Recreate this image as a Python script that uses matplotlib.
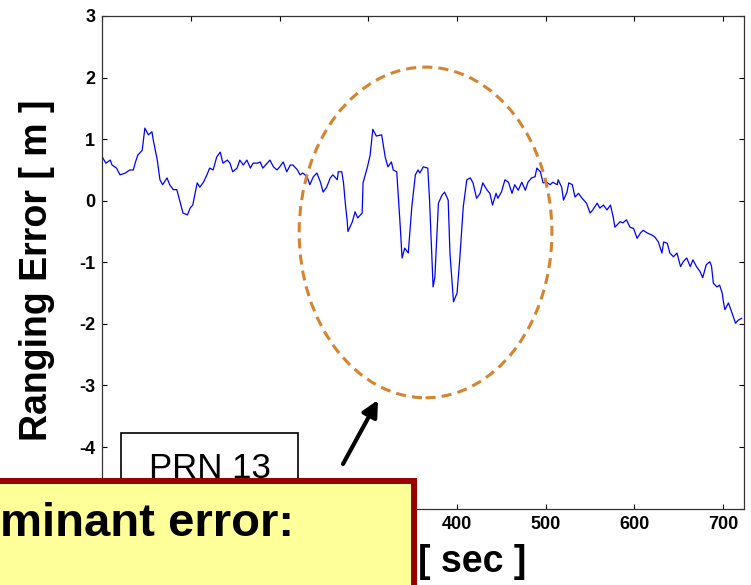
import matplotlib
matplotlib.use('Agg')
import matplotlib.pyplot as plt
from matplotlib import rcParams
from matplotlib.patches import Ellipse, Rectangle

rcParams['font.family'] = 'sans-serif'
rcParams['font.sans-serif'] = ['Liberation Sans']
rcParams['axes.unicode_minus'] = False

# ranging error trace
t_sec = [0, 4, 9, 11, 16, 20, 26, 31, 35, 37,
         40, 45, 48, 52, 56, 57, 62, 65, 68, 73,
         76, 80, 84, 88, 91, 96, 99, 102, 107, 110,
         114, 118, 121, 125, 129, 133, 136, 141, 144, 147,
         152, 155, 159, 163, 167, 170, 175, 178, 181, 186,
         189, 193, 197, 200, 204, 208, 212, 215, 220, 223,
         226, 231, 234, 238, 242, 246, 249, 253, 257, 260,
         265, 266, 270, 272, 274, 276, 277, 282, 285, 288,
         293, 294, 299, 302, 305, 309, 315, 319, 322, 326,
         328, 332, 336, 338, 341, 345, 349, 353, 356, 358,
         362, 367, 369, 373, 375, 379, 383, 386, 390, 392,
         396, 400, 403, 407, 411, 415, 418, 422, 426, 429,
         434, 437, 440, 444, 446, 450, 454, 458, 462, 465,
         469, 473, 477, 480, 484, 488, 490, 494, 497, 501,
         505, 508, 513, 514, 518, 520, 524, 526, 530, 533,
         537, 541, 546, 550, 553, 558, 561, 565, 569, 573,
         576, 578, 584, 587, 591, 595, 599, 603, 607, 610,
         614, 620, 623, 627, 631, 633, 637, 640, 644, 648,
         652, 655, 659, 663, 666, 670, 674, 677, 681, 685,
         687, 689, 693, 696, 699, 700, 702, 706, 710, 714,
         717, 721]
err_m = [0.71, 0.61, 0.66, 0.58, 0.53, 0.42, 0.45, 0.50, 0.50, 0.61,
         0.74, 0.82, 1.18, 1.07, 1.12, 1.02, 0.66, 0.34, 0.26, 0.37,
         0.26, 0.18, 0.18, -0.04, -0.20, -0.23, -0.12, -0.07, 0.29, 0.22,
         0.30, 0.42, 0.53, 0.50, 0.71, 0.79, 0.61, 0.66, 0.61, 0.47,
         0.53, 0.66, 0.58, 0.66, 0.53, 0.61, 0.61, 0.63, 0.53, 0.61,
         0.66, 0.55, 0.50, 0.55, 0.63, 0.47, 0.58, 0.58, 0.50, 0.42,
         0.45, 0.39, 0.26, 0.39, 0.45, 0.30, 0.14, 0.22, 0.37, 0.42,
         0.34, 0.47, 0.47, 0.29, -0.04, -0.31, -0.50, -0.34, -0.18, -0.28,
         -0.20, 0.29, 0.55, 0.74, 1.16, 1.05, 1.07, 0.71, 0.55, 0.63,
         0.50, 0.47, -0.43, -0.93, -0.77, -0.85, -0.10, 0.42, 0.50, 0.45,
         0.55, 0.53, 0.01, -1.40, -1.24, -0.04, 0.09, 0.14, 0.01, -0.85,
         -1.64, -1.50, -0.96, -0.10, 0.34, 0.37, 0.29, 0.04, 0.12, 0.29,
         0.17, 0.12, -0.07, 0.12, 0.04, 0.14, 0.34, 0.30, 0.12, 0.26,
         0.17, 0.30, 0.17, 0.30, 0.37, 0.39, 0.53, 0.47, 0.29, 0.30,
         0.26, 0.30, 0.26, 0.34, 0.22, 0.01, 0.14, 0.29, 0.26, 0.06,
         0.12, 0.04, -0.04, -0.20, -0.15, -0.04, -0.12, -0.07, -0.15, -0.07,
         -0.26, -0.43, -0.34, -0.36, -0.31, -0.43, -0.45, -0.61, -0.52, -0.48,
         -0.52, -0.56, -0.59, -0.67, -0.85, -0.67, -0.69, -0.85, -0.91, -0.85,
         -1.07, -0.99, -0.93, -1.07, -0.96, -1.07, -1.15, -1.25, -1.04, -0.99,
         -1.07, -1.34, -1.40, -1.37, -1.50, -1.61, -1.77, -1.66, -1.82, -1.99,
         -1.94, -1.91]

# ticks; labels under the yellow callout are not visible in the reference
x_ticks = [0, 100, 200, 300, 400, 500, 600, 700]
x_labels = ['', '', '', '', '400', '500', '600', '700']
y_ticks = [-5, -4, -3, -2, -1, 0, 1, 2, 3]
y_labels = ['', '-4', '-3', '-2', '-1', '0', '1', '2', '3']

W, H = 751, 585
fig = plt.figure(figsize=(W / 100, H / 100), dpi=100)
ax = fig.add_axes([102.3 / W, 1 - 508.6 / H, (743.5 - 102.3) / W, (508.6 - 16) / H])

ax.plot(t_sec, err_m, color='#0000FF', linewidth=0.9)
ax.set_xlim(0, 723)
ax.set_ylim(-5, 3)
ax.set_xticks(x_ticks)
ax.set_xticklabels(x_labels)
ax.set_yticks(y_ticks)
ax.set_yticklabels(y_labels)
ax.tick_params(direction='in', top=True, right=True, length=3.6, width=0.8,
               labelsize=13, pad=5)
for lab in ax.get_xticklabels() + ax.get_yticklabels():
    lab.set_fontweight('bold')
for s in ax.spines.values():
    s.set_linewidth(0.9)
    s.set_color('#333333')

ax.set_ylabel('Ranging Error [ m ]', fontsize=27, fontweight='bold')
ax.yaxis.set_label_coords(-0.074, 0.484)
ax.set_xlabel('[ sec ]', fontsize=27, fontweight='bold', ha='left')
ax.xaxis.set_label_coords((418 - 102.3) / 641.2, -0.072)

# dashed highlight around the disturbed part
ell = Ellipse((364.5, -0.515), 285, 5.37, fill=False, edgecolor='#D4832F',
              linewidth=2.2, linestyle=(0, (3.3, 2.0)), clip_on=False, zorder=4)
ax.add_patch(ell)

ax.annotate('', xy=(378, H - 400), xytext=(343, H - 464),
            xycoords='figure pixels', textcoords='figure pixels',
            arrowprops=dict(arrowstyle='-|>', lw=3, color='black',
                            mutation_scale=24, shrinkA=0, shrinkB=0))

# PRN label box
fig.patches.append(Rectangle((121 / W, 1 - 500 / H), 177 / W, 67 / H,
                             transform=fig.transFigure, fill=False,
                             edgecolor='black', linewidth=1.2, zorder=3))
fig.text(209.5 / W, 1 - 478 / H, 'PRN 13', ha='center', va='baseline',
         fontsize=25, zorder=3)

# yellow callout on top
fig.patches.append(Rectangle((-20 / W, -20 / H), 434 / W, (20 + H - 481) / H,
                             transform=fig.transFigure, facecolor='#FFFF99',
                             edgecolor='#990000', linewidth=4.3, zorder=5))
fig.text(0.5 / W, 1 - 536.5 / H, 'minant error:', ha='left', va='baseline',
         fontsize=34, fontweight='bold', zorder=6)

fig.savefig('out.png', dpi=100)
